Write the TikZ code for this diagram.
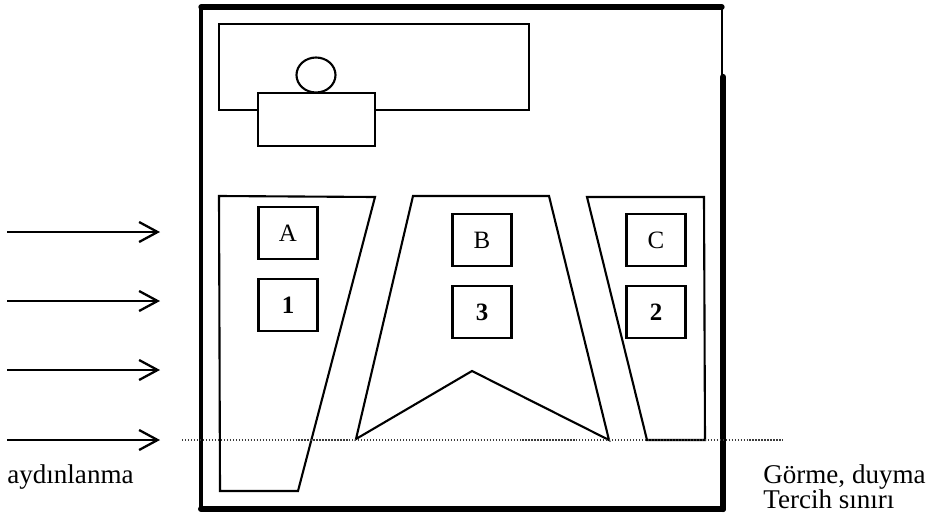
\documentclass[tikz,border=0pt]{standalone}
\usepackage{fontspec}
\setmainfont{Liberation Serif}
\usetikzlibrary{positioning,arrows.meta}
\definecolor{ink}{RGB}{0,0,0}
\definecolor{dots}{RGB}{60,60,60}

\begin{document}
\begin{tikzpicture}[
  x=0.02cm, y=-0.02cm,
  >={Straight Barb[length=0.37cm, width=0.40cm]},
  zone/.style={draw=ink, line width=1.2pt, line join=miter},
  seat/.style={draw=ink, line width=1.2pt, minimum width=1.18cm, minimum height=1.05cm, inner sep=0pt, font=\fontsize{14.2}{16}\selectfont},
  num/.style={seat, font=\fontsize{14.2}{16}\selectfont\bfseries},
  ray/.style={->, line width=1.3pt, ink},
  lbl/.style={font=\fontsize{15.4}{18}\selectfont, inner sep=0pt, anchor=base west},
]
\useasboundingbox (0,0) rectangle (931,518);

% ---- the room ----
\draw[ink, line width=1.9pt, line cap=round] (201,7) -- (201,509);
\draw[ink, line width=3pt, line cap=round] (201,7) -- (722,7);
\draw[ink, line width=1.7pt] (722,7) -- (722,77);
\draw[ink, line width=3.6pt, line cap=round] (723,77) -- (723,509);
\draw[ink, line width=3.4pt, line cap=round] (201,509) -- (723,509);

% ---- board, teacher and desk ----
\draw[zone] (219,24) rectangle (529,110);
\draw[zone] (316,75) ellipse [x radius=19.5, y radius=17.5];
\draw[zone, fill=white] (258,93) rectangle (375,146);

% ---- the three seating zones ----
\draw[zone] (219,196) -- (375,197) -- (298,491) -- (220,491) -- cycle;
\draw[zone] (356,439) -- (413,196) -- (549,196) -- (609,440) -- (472,371) -- cycle;
\draw[zone] (587,197) -- (704,197) -- (705,440) -- (647,440) -- cycle;

% ---- seats ----
\node[seat] (A) at (288,233) {A};
\node[num, below=0.35cm of A] (n1) {1};
\node[seat] (B) at (482,240) {B};
\node[num, below=0.35cm of B] (n3) {3};
\node[seat] (C) at (656,240) {C};
\node[num, below=0.35cm of C] (n2) {2};

% ---- limit line ----
\draw[densely dotted, dots, line width=0.7pt] (182,440) -- (783,440);

% ---- light from the windows ----
\foreach \y [count=\i] in {232,301,370,440} {
  \coordinate (s\i) at (7,\y);
  \coordinate (t\i) at (160,\y);
  \draw[ray] (s\i) -- (t\i);
}

% ---- labels ----
\node[lbl] (ayd) at (7,483) {aydınlanma};
\node[lbl] (gorme) at (763,483) {Görme, duyma};
\node[lbl] (tercih) at (763,508) {Tercih sınırı};

\end{tikzpicture}
\end{document}
